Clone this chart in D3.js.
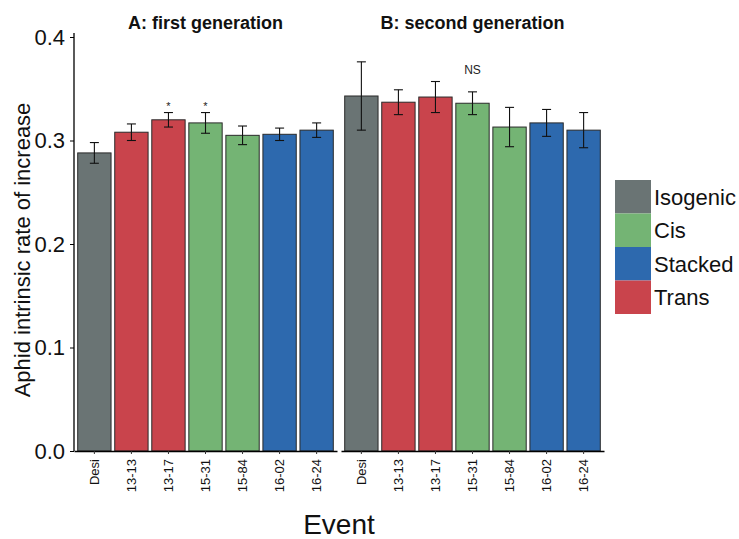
<!DOCTYPE html>
<html>
<head>
<meta charset="utf-8">
<script src="https://cdn.jsdelivr.net/npm/d3@7"></script>
<style>
  html, body { margin: 0; padding: 0; background: #fff; }
  svg { display: block; font-family: "Liberation Sans", Arial, sans-serif; }
</style>
</head>
<body>
<svg id="chart" width="739" height="539"></svg>
<script>
// ---- data ----
const events = ["Desi", "13-13", "13-17", "15-31", "15-84", "16-02", "16-24"];
const eventGroup = ["Isogenic", "Trans", "Trans", "Cis", "Cis", "Stacked", "Stacked"];
const gen1Mean = [0.288, 0.308, 0.320, 0.317, 0.305, 0.306, 0.310];
const gen1Err  = [0.010, 0.008, 0.007, 0.010, 0.009, 0.006, 0.007];
const gen1Sig  = ["", "", "*", "*", "", "", ""];
const gen2Mean = [0.343, 0.337, 0.342, 0.336, 0.313, 0.317, 0.310];
const gen2Err  = [0.033, 0.012, 0.015, 0.011, 0.019, 0.013, 0.017];
const gen2Note = ["", "", "", "NS", "", "", ""];
const panelTitles = ["A: first generation", "B: second generation"];
const legendGroups = ["Isogenic", "Cis", "Stacked", "Trans"];
const groupColors = ["#6a7474", "#74b474", "#2d69ae", "#c9444c"];
const yTicks = [0.0, 0.1, 0.2, 0.3, 0.4];
const yTitle = "Aphid intrinsic rate of increase";
const xTitle = "Event";

// ---- layout ----
const svg = d3.select("#chart");
const color = d3.scaleOrdinal().domain(legendGroups).range(groupColors);
const y = d3.scaleLinear().domain([0, 0.4]).range([451, 37]);
const panelTop = 33;
const panels = [
  { x0: 74, x1: 337, mean: gen1Mean, err: gen1Err, notes: gen1Sig, title: panelTitles[0] },
  { x0: 341, x1: 604, mean: gen2Mean, err: gen2Err, notes: gen2Note, title: panelTitles[1] }
];

panels.forEach((p, pi) => {
  const x = d3.scaleBand().domain(events).range([p.x0, p.x1]).paddingInner(0.1).paddingOuter(0.1);
  const g = svg.append("g");
  const rows = events.map((e, i) => ({ e, grp: eventGroup[i], m: p.mean[i], s: p.err[i], note: p.notes[i] }));

  g.selectAll("rect.bar").data(rows).join("rect")
    .attr("class", "bar")
    .attr("x", d => x(d.e))
    .attr("width", x.bandwidth())
    .attr("y", d => y(d.m))
    .attr("height", d => y(0) - y(d.m))
    .attr("fill", d => color(d.grp))
    .attr("stroke", "#2a2a2a")
    .attr("stroke-width", 1);

  const cap = 4.5;
  const eb = g.selectAll("g.eb").data(rows).join("g").attr("class", "eb")
    .attr("stroke", "#111").attr("stroke-width", 1.1);
  eb.append("line")
    .attr("x1", d => x(d.e) + x.bandwidth() / 2).attr("x2", d => x(d.e) + x.bandwidth() / 2)
    .attr("y1", d => y(d.m + d.s)).attr("y2", d => y(d.m - d.s));
  eb.append("line")
    .attr("x1", d => x(d.e) + x.bandwidth() / 2 - cap).attr("x2", d => x(d.e) + x.bandwidth() / 2 + cap)
    .attr("y1", d => y(d.m + d.s)).attr("y2", d => y(d.m + d.s));
  eb.append("line")
    .attr("x1", d => x(d.e) + x.bandwidth() / 2 - cap).attr("x2", d => x(d.e) + x.bandwidth() / 2 + cap)
    .attr("y1", d => y(d.m - d.s)).attr("y2", d => y(d.m - d.s));

  // annotations
  g.selectAll("text.note").data(rows.filter(d => d.note)).join("text")
    .attr("class", "note")
    .attr("x", d => x(d.e) + x.bandwidth() / 2)
    .attr("y", d => d.note === "*" ? y(d.m + d.s) - 3 : 74)
    .attr("text-anchor", "middle")
    .attr("font-size", d => d.note === "*" ? 11 : 12)
    .attr("fill", "#222")
    .text(d => d.note);

  // x axis
  const xa = g.append("g").attr("transform", `translate(0,${y(0)})`)
    .call(d3.axisBottom(x).tickSizeOuter(0).tickSizeInner(3).tickPadding(3));
  xa.select(".domain").attr("stroke", "#000").attr("stroke-width", 1.3);
  xa.selectAll(".tick line").attr("stroke", "#333");
  xa.selectAll(".tick text")
    .attr("font-size", 13).attr("fill", "#111")
    .attr("transform", "rotate(-90)")
    .attr("text-anchor", "end")
    .attr("x", -8).attr("y", 0).attr("dy", "0.35em");

  // title
  svg.append("text")
    .attr("x", (p.x0 + p.x1) / 2).attr("y", 29)
    .attr("text-anchor", "middle")
    .attr("font-size", 18).attr("font-weight", "bold").attr("fill", "#111")
    .text(p.title);
});

// y axis
const ya = svg.append("g").attr("transform", "translate(74,0)")
  .call(d3.axisLeft(y).tickValues(yTicks).tickFormat(d3.format(".1f")).tickSizeOuter(0).tickSizeInner(4).tickPadding(5));
ya.select(".domain").attr("d", `M0,${panelTop}V${y(0)}`).attr("stroke", "#000").attr("stroke-width", 1.3);
ya.selectAll(".tick text").attr("font-size", 22).attr("fill", "#111");

// axis titles
svg.append("text")
  .attr("transform", `translate(30,${(y(0) + panelTop) / 2 + 8}) rotate(-90)`)
  .attr("text-anchor", "middle").attr("font-size", 22).attr("fill", "#111")
  .text(yTitle);
svg.append("text")
  .attr("x", 339).attr("y", 534)
  .attr("text-anchor", "middle").attr("font-size", 28).attr("fill", "#111")
  .text(xTitle);

// legend
const lg = svg.append("g").attr("transform", "translate(615,180)");
const keyH = 33.5, keyW = 36;
lg.selectAll("rect").data(legendGroups).join("rect")
  .attr("x", 0).attr("y", (d, i) => i * keyH)
  .attr("width", keyW).attr("height", keyH)
  .attr("fill", d => color(d));
lg.selectAll("text").data(legendGroups).join("text")
  .attr("x", keyW + 3).attr("y", (d, i) => i * keyH + keyH / 2)
  .attr("dy", "0.36em")
  .attr("font-size", 22).attr("fill", "#111")
  .text(d => d);
</script>
</body>
</html>
